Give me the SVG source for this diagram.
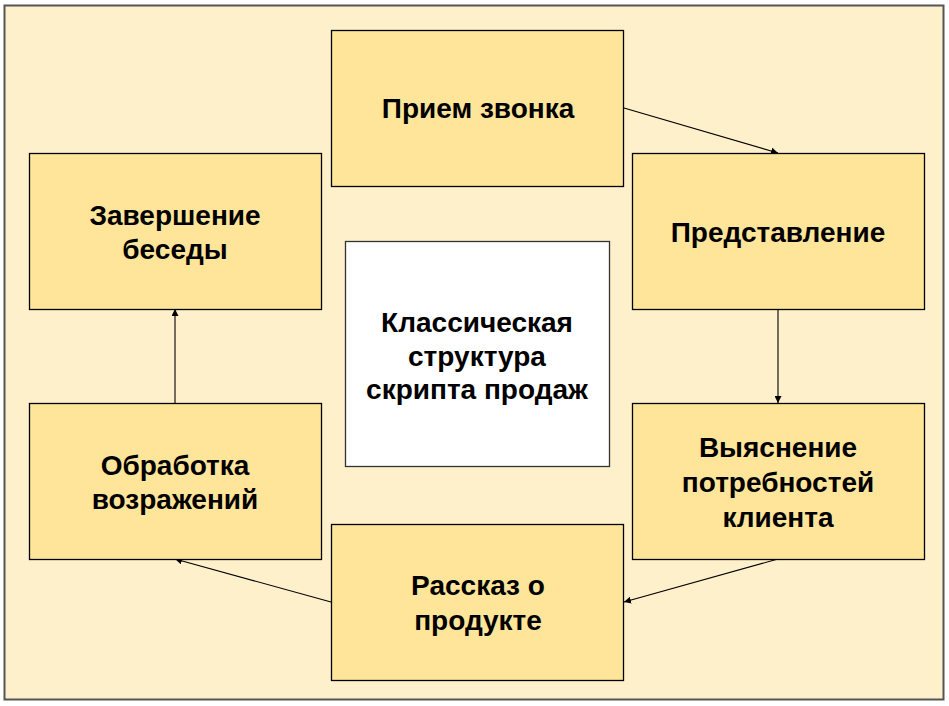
<svg xmlns="http://www.w3.org/2000/svg" width="949" height="706" viewBox="0 0 949 706">
<defs>
<style>
.box{fill:#FFE599;stroke:#000;stroke-width:1.3}
.center{fill:#FFFFFF;stroke:#333;stroke-width:1.3}
.t{font-family:"Liberation Sans",Arial,sans-serif;font-weight:bold;font-size:28px;fill:#000;text-anchor:middle;dominant-baseline:central}
.c{stroke:#000;stroke-width:1.1;fill:none;marker-end:url(#ah)}
</style>
<marker id="ah" viewBox="0 0 10 10" refX="10" refY="5" markerWidth="7" markerHeight="7" markerUnits="userSpaceOnUse" orient="auto">
<path d="M0,0 L10,5 L0,10 z" fill="#000"/>
</marker>
</defs>
<rect x="4.5" y="5.5" width="939" height="694" fill="#FFF0CC" stroke="#555" stroke-width="2"/>
<g id="connectors">
<line class="c" x1="624" y1="108" x2="778" y2="153"/>
<line class="c" x1="778" y1="309" x2="778" y2="403"/>
<line class="c" x1="778" y1="559" x2="624" y2="602"/>
<line class="c" x1="331" y1="602" x2="175" y2="559"/>
<line class="c" x1="175" y1="403" x2="175" y2="309"/>
</g>
<g id="n-priem">
<rect class="box" x="331.5" y="30.5" width="292" height="156"/>
<text class="t" x="478" y="108">Прием звонка</text>
</g>
<g id="n-predst">
<rect class="box" x="632.5" y="153.5" width="292" height="156"/>
<text class="t" x="778" y="232">Представление</text>
</g>
<g id="n-vyyasn">
<rect class="box" x="632.5" y="403.5" width="292" height="156"/>
<text class="t" x="778" y="447">Выяснение</text>
<text class="t" x="778" y="482">потребностей</text>
<text class="t" x="778" y="517">клиента</text>
</g>
<g id="n-rasskaz">
<rect class="box" x="331.5" y="524.5" width="292" height="156"/>
<text class="t" x="478" y="585">Рассказ о</text>
<text class="t" x="478" y="620">продукте</text>
</g>
<g id="n-obrab">
<rect class="box" x="29.5" y="403.5" width="292" height="156"/>
<text class="t" x="175" y="465">Обработка</text>
<text class="t" x="175" y="499">возражений</text>
</g>
<g id="n-zaversh">
<rect class="box" x="29.5" y="153.5" width="292" height="156"/>
<text class="t" x="175" y="215">Завершение</text>
<text class="t" x="175" y="249">беседы</text>
</g>
<g id="n-center">
<rect class="center" x="345.5" y="241.5" width="264" height="225"/>
<text class="t" x="477" y="322">Классическая</text>
<text class="t" x="477" y="356">структура</text>
<text class="t" x="477" y="389">скрипта продаж</text>
</g>
</svg>
